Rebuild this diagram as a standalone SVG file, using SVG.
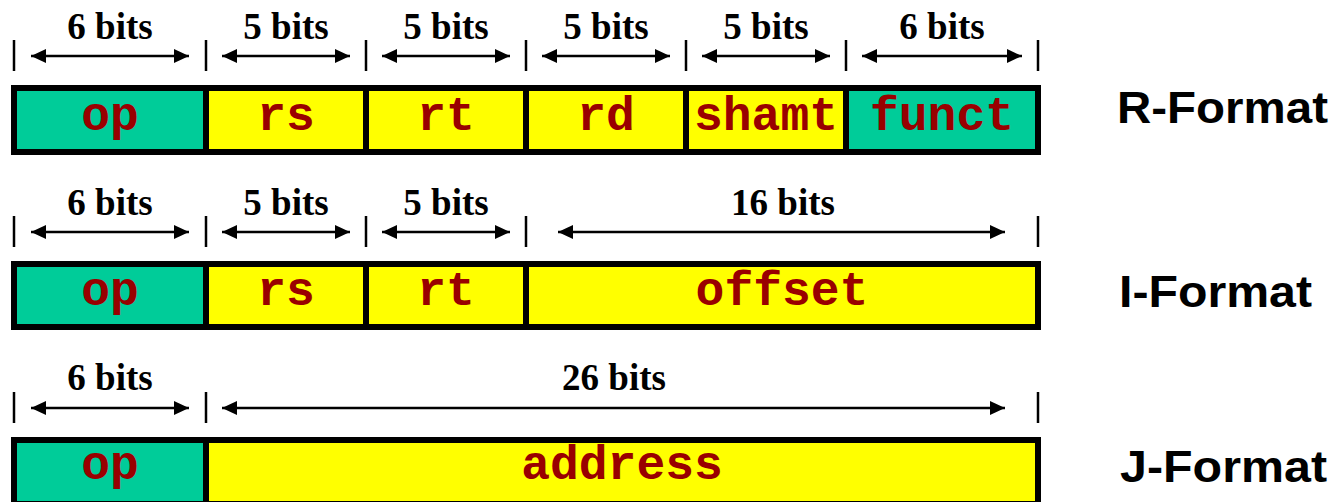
<svg xmlns="http://www.w3.org/2000/svg" width="1336" height="502" viewBox="0 0 1336 502">
  <style>
    .cell { stroke: #000; stroke-width: 6; }
    .op { fill: #00CC99; }
    .fld { fill: #FFFF00; }
    .name { font-family: "Liberation Mono", "Courier New", monospace; font-weight: bold; font-size: 48px; fill: #990000; text-anchor: middle; }
    .bits { font-family: "Liberation Serif", "Times New Roman", serif; font-weight: bold; font-size: 37px; fill: #000; text-anchor: middle; }
    .fmt { font-family: "Liberation Sans", Arial, sans-serif; font-weight: bold; font-size: 45px; fill: #000; }
    .tick { stroke: #000; stroke-width: 2.5; }
    .dim { stroke: #000; stroke-width: 2.5; marker-start: url(#head); marker-end: url(#head); }
  </style>
  <defs>
    <marker id="head" viewBox="0 0 15 14" refX="15" refY="7" markerWidth="15" markerHeight="14" markerUnits="userSpaceOnUse" orient="auto-start-reverse">
      <path d="M0,0 L15,7 L0,14 z" fill="#000"/>
    </marker>
  </defs>

  <rect width="1336" height="502" fill="#fff"/>

  <!-- R-Format instruction fields -->
  <g id="r-op"><rect class="cell op" x="14" y="88" width="192" height="64"/><text class="name" x="110" y="130">op</text></g>
  <g id="r-rs"><rect class="cell fld" x="206" y="88" width="160" height="64"/><text class="name" x="286" y="130">rs</text></g>
  <g id="r-rt"><rect class="cell fld" x="366" y="88" width="160" height="64"/><text class="name" x="446" y="130">rt</text></g>
  <g id="r-rd"><rect class="cell fld" x="526" y="88" width="160" height="64"/><text class="name" x="606" y="130">rd</text></g>
  <g id="r-shamt"><rect class="cell fld" x="686" y="88" width="160" height="64"/><text class="name" x="766" y="130">shamt</text></g>
  <g id="r-funct"><rect class="cell op" x="846" y="88" width="192" height="64"/><text class="name" x="942" y="130">funct</text></g>
  <g id="r-label"><text class="fmt" x="1117" y="123" textLength="211" lengthAdjust="spacingAndGlyphs">R-Format</text></g>

  <!-- I-Format instruction fields -->
  <g id="i-op"><rect class="cell op" x="14" y="264" width="192" height="63"/><text class="name" x="110" y="305">op</text></g>
  <g id="i-rs"><rect class="cell fld" x="206" y="264" width="160" height="63"/><text class="name" x="286" y="305">rs</text></g>
  <g id="i-rt"><rect class="cell fld" x="366" y="264" width="160" height="63"/><text class="name" x="446" y="305">rt</text></g>
  <g id="i-offset"><rect class="cell fld" x="526" y="264" width="512" height="63"/><text class="name" x="782" y="305">offset</text></g>
  <g id="i-label"><text class="fmt" x="1119" y="307" textLength="193" lengthAdjust="spacingAndGlyphs">I-Format</text></g>

  <!-- J-Format instruction fields -->
  <g id="j-op"><rect class="cell op" x="14" y="440" width="192" height="64"/><text class="name" x="110" y="479">op</text></g>
  <g id="j-address"><rect class="cell fld" x="206" y="440" width="832" height="64"/><text class="name" x="622" y="479">address</text></g>
  <g id="j-label"><text class="fmt" x="1120" y="482" textLength="207" lengthAdjust="spacingAndGlyphs">J-Format</text></g>

  <!-- bit-width dimension lines -->
  <g id="connectors">
    <!-- R row -->
    <g>
      <line class="tick" x1="14" y1="40" x2="14" y2="71"/>
      <line class="tick" x1="206" y1="40" x2="206" y2="71"/>
      <line class="tick" x1="366" y1="40" x2="366" y2="71"/>
      <line class="tick" x1="526" y1="40" x2="526" y2="71"/>
      <line class="tick" x1="686" y1="40" x2="686" y2="71"/>
      <line class="tick" x1="846" y1="40" x2="846" y2="71"/>
      <line class="tick" x1="1038" y1="40" x2="1038" y2="71"/>
      <line class="dim" x1="31" y1="56" x2="189" y2="56"/>
      <line class="dim" x1="222" y1="56" x2="350" y2="56"/>
      <line class="dim" x1="382" y1="56" x2="510" y2="56"/>
      <line class="dim" x1="542" y1="56" x2="670" y2="56"/>
      <line class="dim" x1="702" y1="56" x2="830" y2="56"/>
      <line class="dim" x1="862" y1="56" x2="1022" y2="56"/>
      <text class="bits" x="110" y="39">6 bits</text>
      <text class="bits" x="286" y="39">5 bits</text>
      <text class="bits" x="446" y="39">5 bits</text>
      <text class="bits" x="606" y="39">5 bits</text>
      <text class="bits" x="766" y="39">5 bits</text>
      <text class="bits" x="942" y="39">6 bits</text>
    </g>
    <!-- I row -->
    <g>
      <line class="tick" x1="14" y1="216" x2="14" y2="247"/>
      <line class="tick" x1="206" y1="216" x2="206" y2="247"/>
      <line class="tick" x1="366" y1="216" x2="366" y2="247"/>
      <line class="tick" x1="526" y1="216" x2="526" y2="247"/>
      <line class="tick" x1="1038" y1="216" x2="1038" y2="247"/>
      <line class="dim" x1="31" y1="232" x2="189" y2="232"/>
      <line class="dim" x1="222" y1="232" x2="350" y2="232"/>
      <line class="dim" x1="382" y1="232" x2="510" y2="232"/>
      <line class="dim" x1="558" y1="232" x2="1005" y2="232"/>
      <text class="bits" x="110" y="215">6 bits</text>
      <text class="bits" x="286" y="215">5 bits</text>
      <text class="bits" x="446" y="215">5 bits</text>
      <text class="bits" x="783" y="215">16 bits</text>
    </g>
    <!-- J row -->
    <g>
      <line class="tick" x1="14" y1="392" x2="14" y2="423"/>
      <line class="tick" x1="206" y1="392" x2="206" y2="423"/>
      <line class="tick" x1="1038" y1="392" x2="1038" y2="423"/>
      <line class="dim" x1="31" y1="408" x2="189" y2="408"/>
      <line class="dim" x1="222" y1="408" x2="1005" y2="408"/>
      <text class="bits" x="110" y="390">6 bits</text>
      <text class="bits" x="614" y="390">26 bits</text>
    </g>
  </g>
</svg>
